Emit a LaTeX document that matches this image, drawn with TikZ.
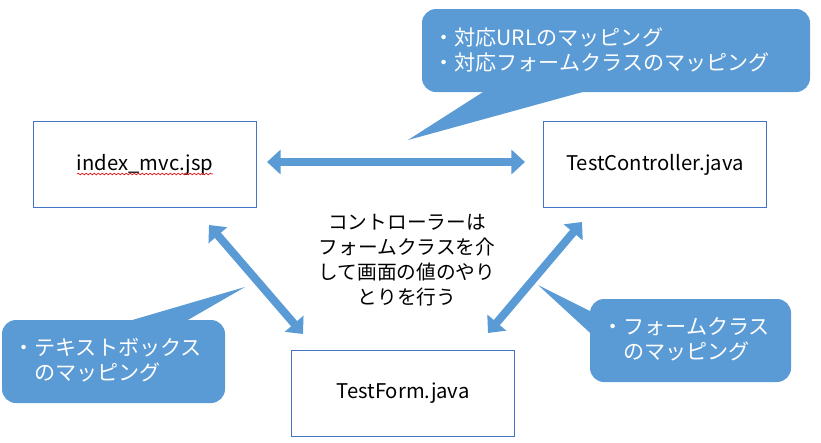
\documentclass[tikz,border=0pt]{standalone}
\usepackage{fontspec}
\setmainfont{Noto Sans CJK JP}
\usetikzlibrary{arrows.meta,decorations.pathmorphing}
\definecolor{calloutblue}{HTML}{5B9BD5}
\definecolor{boxblue}{HTML}{4472C4}
\definecolor{spellred}{HTML}{E8141B}
\tikzset{
	filebox/.style={draw=boxblue, line width=0.8pt, minimum width=5.58cm, minimum height=2.15cm, font=\fontsize{14.4pt}{17pt}\selectfont},
	callout/.style={fill=calloutblue, rounded corners=0.35cm},
	notetext/.style={text=white, align=left, anchor=west, inner sep=0pt, font=\fontsize{15pt}{17.8pt}\selectfont},
	bigarrow/.style={calloutblue, line width=0.2cm, {Triangle[width=0.6cm,length=0.34cm]}-{Triangle[width=0.6cm,length=0.34cm]}}
}
\begin{document}
\begin{tikzpicture}[x=0.025cm, y=-0.025cm]
	\useasboundingbox (0,0) rectangle (821,442);
	\node[filebox] (jsp) at (145,164.5) {index\_mvc.jsp};
	\node[filebox] (ctrl) at (655,164.5) {TestController.java};
	\node[filebox] (form) at (403,393.5) {TestForm.java};
	\draw[spellred, line width=0.5pt, decorate, decoration={snake, amplitude=0.02cm, segment length=0.1cm}] (77,174) -- (213,174);
	\coordinate (jspR) at (267,162);
	\coordinate (ctrlL) at (525,162);
	\coordinate (jspB) at (209,225);
	\coordinate (formL) at (303,334);
	\coordinate (ctrlB) at (582,222);
	\coordinate (formR) at (488,333);
	\draw[bigarrow] (jspR) -- (ctrlL);
	\draw[bigarrow] (jspB) -- (formL);
	\draw[bigarrow] (ctrlB) -- (formR);
	\node[align=center, font=\fontsize{14pt}{17.8pt}\selectfont] (mid) at (407,260) {コントローラーは\\フォームクラスを介\\して画面の値のやり\\とりを行う};
	\fill[callout] (422,9) rectangle (810,92);
	\fill[calloutblue] (494,85) -- (408,140) -- (608,85) -- cycle;
	\node[notetext] (urlnote) at (433,49.5) {・対応URLのマッピング\\・対応フォームクラスのマッピング};
	\fill[callout] (2,320) rectangle (225,403);
	\fill[calloutblue] (105,328) -- (245,287) -- (174,328) -- cycle;
	\node[notetext] (textnote) at (13,360.5) {・テキストボックス\\\phantom{・}のマッピング};
	\fill[callout] (590,299) rectangle (791,382);
	\fill[calloutblue] (600,316) -- (538,285) -- (600,342) -- cycle;
	\node[notetext] (formnote) at (602,339.5) {・フォームクラス\\\phantom{・}のマッピング};
\end{tikzpicture}
\end{document}
